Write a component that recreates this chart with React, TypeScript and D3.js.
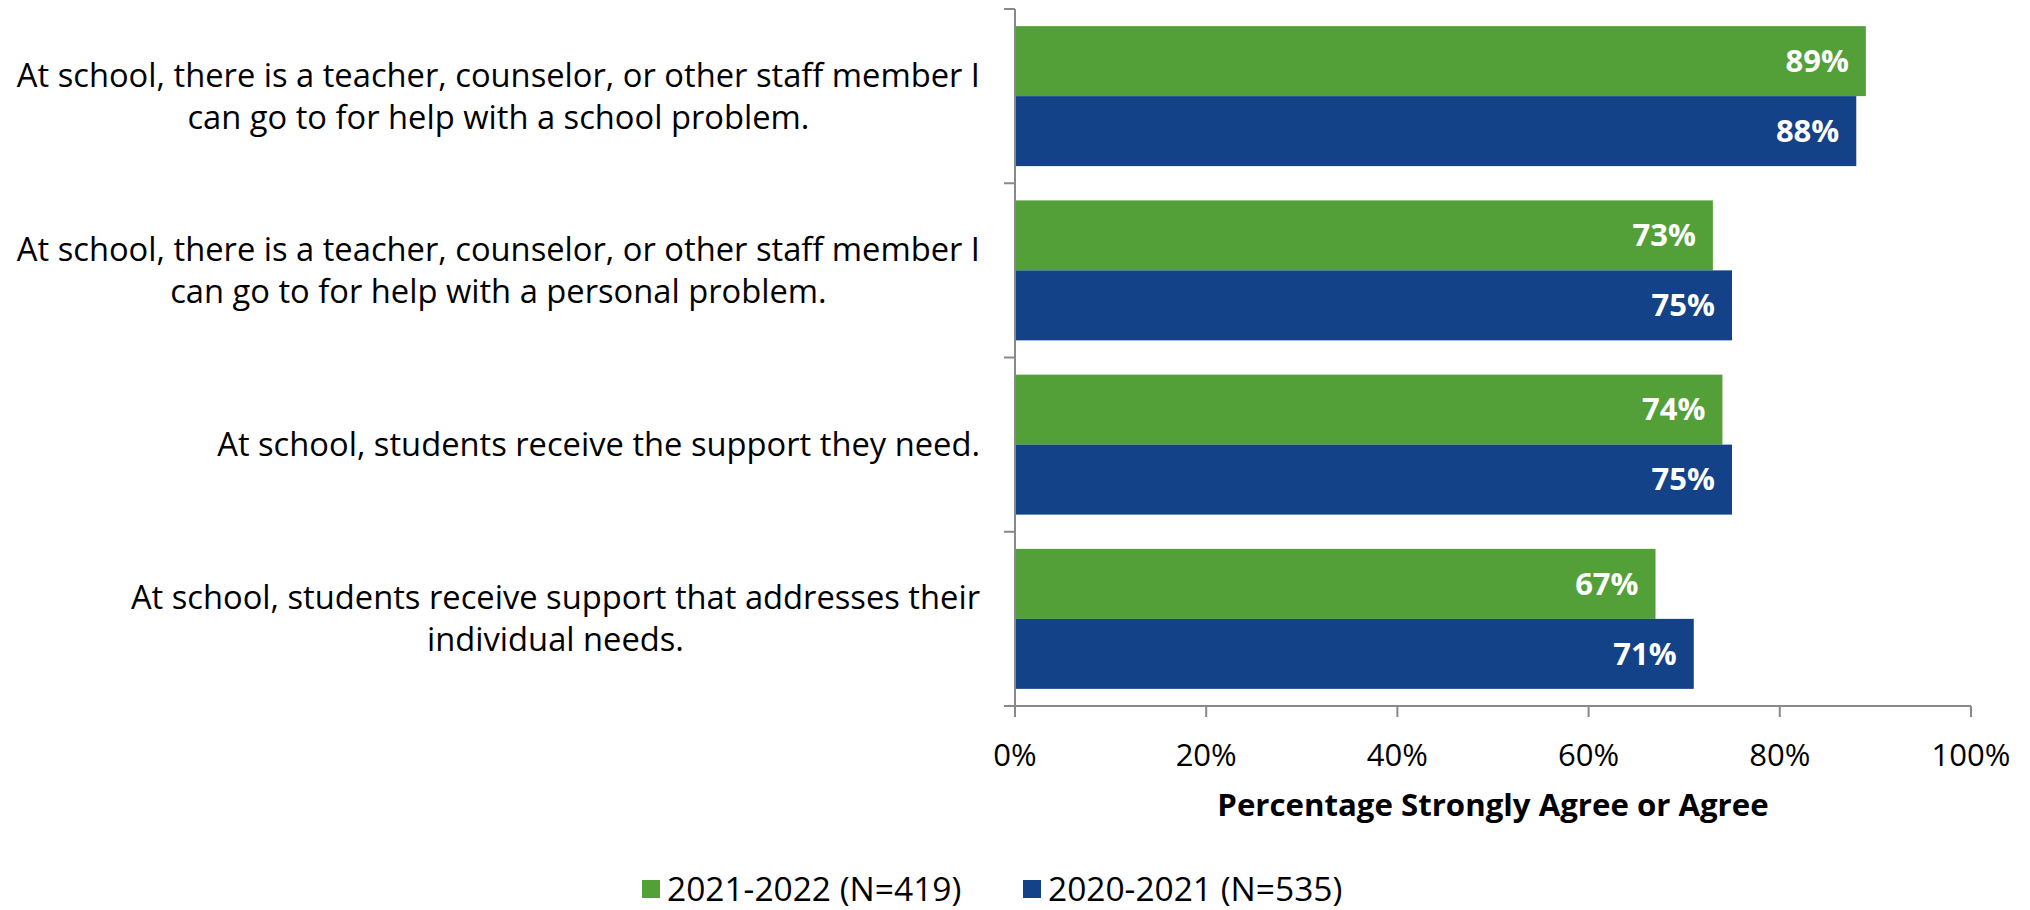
import React from "react";
import * as d3 from "d3";

const categories = [
  ["At school, there is a teacher, counselor, or other staff member I", "can go to for help with a school problem."],
  ["At school, there is a teacher, counselor, or other staff member I", "can go to for help with a personal problem."],
  ["At school, students receive the support they need."],
  ["At school, students receive support that addresses their", "individual needs."],
];
const seriesNames = ["2021-2022 (N=419)", "2020-2021 (N=535)"];
const values2122 = [89, 73, 74, 67];
const values2021 = [88, 75, 75, 71];
const xTicks = [0, 20, 40, 60, 80, 100];
const axisTitle = "Percentage Strongly Agree or Agree";

const COLORS = ["#54A038", "#134288"];
const AXIS = "#898989";
const FONT = "'Open Sans', sans-serif";

const W = 2030, H = 910;
const X0 = 1015, X1 = 1971, YT = 9, YB = 706;
const LABEL_RIGHT = 980;
const CAT_FS = 32.7;

let ctx: CanvasRenderingContext2D | null = null;
function measure(text: string, size: number, weight = "normal") {
  if (!ctx) ctx = document.createElement("canvas").getContext("2d");
  ctx!.font = `${weight} ${size}px 'Open Sans'`;
  return ctx!.measureText(text).width;
}

export default function App() {
  React.useEffect(() => {
    document.body.style.margin = "0";
  }, []);
  const x = d3.scaleLinear().domain([0, 100]).range([X0, X1]);
  const idx = categories.map((_, i) => String(i));
  const y0 = d3.scaleBand<string>().domain(idx).range([YT, YB]).padding(0);
  const y1 = d3.scaleBand<string>().domain(["0", "1"]).range([0, y0.bandwidth()]).paddingInner(0).paddingOuter(0.245);
  const series = [values2122, values2021];

  return (
    <svg width={W} height={H} style={{ position: "absolute", left: 0, top: 0 }} fontFamily={FONT}>
      <rect width={W} height={H} fill="#fff" />
      {/* bars */}
      {series.map((vals, s) =>
        vals.map((v, i) => {
          const yy = (y0(String(i)) as number) + (y1(String(s)) as number);
          const bh = y1.bandwidth();
          return (
            <g key={`${s}-${i}`}>
              <rect x={x(0)} y={yy} width={x(v) - x(0)} height={bh} fill={COLORS[s]} />
              <text x={x(v) - 17} y={yy + bh / 2} dy="0.35em" textAnchor="end" fill="#fff" fontWeight="bold" fontSize={31}>
                {v}%
              </text>
            </g>
          );
        })
      )}
      {/* y axis */}
      <line x1={X0} x2={X0} y1={YT} y2={YB} stroke={AXIS} strokeWidth={2} />
      {[...idx.map((d) => y0(d) as number), YB].map((t, i) => (
        <line key={i} x1={X0 - 11} x2={X0} y1={t} y2={t} stroke={AXIS} strokeWidth={2} />
      ))}
      {/* x axis */}
      <line x1={X0 - 11} x2={X1} y1={YB} y2={YB} stroke={AXIS} strokeWidth={2} />
      {xTicks.map((t) => (
        <g key={t}>
          <line x1={x(t)} x2={x(t)} y1={YB} y2={YB + 11} stroke={AXIS} strokeWidth={2} />
          <text x={x(t)} y={755} dy="0.35em" textAnchor="middle" fontSize={31} fill="#000">
            {t}%
          </text>
        </g>
      ))}
      <text x={(X0 + X1) / 2} y={805} dy="0.35em" textAnchor="middle" fontSize={31.2} fontWeight="bold" fill="#000">
        {axisTitle}
      </text>
      {/* category labels */}
      {categories.map((lines, i) => {
        const widest = Math.max(...lines.map((l) => measure(l, CAT_FS)));
        const cx = LABEL_RIGHT - widest / 2;
        const cy = (y0(String(i)) as number) + y0.bandwidth() / 2;
        const lh = 42;
        return (
          <text key={i} textAnchor="middle" fontSize={CAT_FS} fill="#000">
            {lines.map((l, j) => (
              <tspan key={j} x={cx} y={cy + (j - (lines.length - 1) / 2) * lh} dy="0.35em">
                {l}
              </tspan>
            ))}
          </text>
        );
      })}
      {/* legend */}
      {seriesNames.map((n, s) => {
        const lx = [642, 1023][s];
        return (
          <g key={n}>
            <rect x={lx} y={889 - 9} width={18} height={18} fill={COLORS[s]} />
            <text x={lx + 25} y={889} dy="0.35em" fontSize={33.5} fill="#000">
              {n}
            </text>
          </g>
        );
      })}
    </svg>
  );
}
